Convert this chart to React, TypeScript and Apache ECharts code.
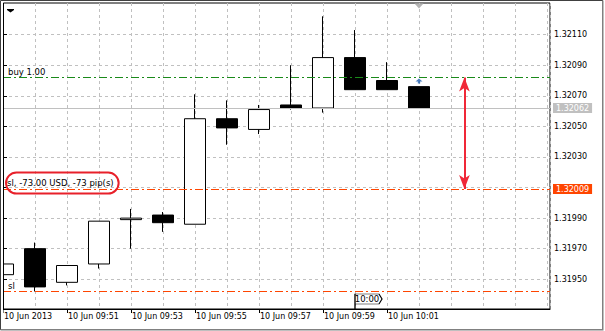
import React, { useEffect, useRef } from "react";
import * as echarts from "echarts";

// ---- data ----
const times = ["09:49", "09:50", "09:51", "09:52", "09:53", "09:54", "09:55", "09:56", "09:57", "09:58", "09:59", "10:00", "10:01", "10:02"];
const opens = [1.31953, 1.3197, 1.31948, 1.3196, 1.31989, 1.31992, 1.31986, 1.32055, 1.32048, 1.32064, 1.32062, 1.32095, 1.3208, 1.32076];
const closes = [1.3196, 1.31945, 1.31959, 1.31988, 1.3199, 1.31987, 1.32055, 1.32049, 1.32061, 1.32062, 1.32095, 1.32074, 1.32074, 1.32062];
const lows = [1.31953, 1.31942, 1.31946, 1.31957, 1.3197, 1.31981, 1.31986, 1.32038, 1.32045, 1.32061, 1.32059, 1.32074, 1.32074, 1.32062];
const highs = [1.3196, 1.31974, 1.31959, 1.31988, 1.31996, 1.31994, 1.32071, 1.32067, 1.32064, 1.3209, 1.32122, 1.32113, 1.32092, 1.32076];

const xLabels = ["10 Jun 2013", "", "10 Jun 09:51", "", "10 Jun 09:53", "", "10 Jun 09:55", "", "10 Jun 09:57", "", "10 Jun 09:59", "", "10 Jun 10:01"];
const xLabelValues = [0, 2, 4, 6, 8, 10, 12];
const yTickValues = [1.3195, 1.3197, 1.3199, 1.3201, 1.3203, 1.3205, 1.3207, 1.3209, 1.3211];
const yLabelValues = [1.3195, 1.3197, 1.3199, 1.3203, 1.3205, 1.3207, 1.3209, 1.3211];

const yMin = 1.3193055;
const yMax = 1.321307;
const xMax = 17.094;

const buyPrice = 1.32082;
const slPrice = 1.32009;
const sl2Price = 1.31942;
const bidPrice = 1.32062;
const buyLabel = "buy 1.00";
const slLabel = "sl, -73.00 USD, -73 pip(s)";
const sl2Label = "sl";
const periodLabel = "10:00";
const periodIndex = 11;
const arrowIndex = 14.42;
const dealIndex = 13;
const shiftIndex = 13;

const FONT = "DejaVu Sans";

export default function App() {
  const ref = useRef<HTMLDivElement>(null);

  useEffect(() => {
    document.body.style.margin = "0";
    const chart = echarts.init(ref.current!, null, { renderer: "svg" });
    const candleData = times.map((_, i) => [i, opens[i], closes[i], lows[i], highs[i]]);

    const priceBox = (bg: string) => ({
      show: true,
      position: "end",
      distance: 3,
      formatter: (p: any) => Number(p.value).toFixed(5),
      backgroundColor: bg,
      color: "#fff",
      padding: [1, 3, 0, 3],
      lineHeight: 9,
      fontSize: 8,
      fontFamily: FONT,
    });

    const lineLabel = (text: string) => ({
      show: true,
      position: "insideStartTop",
      distance: [5, 1],
      formatter: text,
      color: "#000",
      fontSize: 8.5,
      fontFamily: FONT,
    });

    const hLine = (price: number, color: string, dash: any, label: any) => ({
      yAxis: price,
      lineStyle: { color, type: dash, width: 1, opacity: 1 },
      itemStyle: { color },
      label,
    });

    chart.setOption({
      animation: false,
      backgroundColor: "#fff",
      grid: { left: 3, top: 3, right: 55, bottom: 22, show: true, borderColor: "#000", borderWidth: 1, backgroundColor: "transparent" },
      xAxis: [
        {
          type: "value",
          min: 0,
          max: xMax,
          interval: 1,
          position: "bottom",
          axisLine: { show: true, lineStyle: { color: "#000", width: 1 } },
          axisTick: { show: false },
          axisLabel: { show: false },
          splitLine: { show: true, lineStyle: { color: "#c0c0c0", type: [3, 3], width: 1 } },
        },
        {
          type: "value",
          min: 0,
          max: xMax,
          position: "bottom",
          axisLine: { show: false },
          splitLine: { show: false },
          axisTick: { show: true, length: 4, customValues: xLabelValues, lineStyle: { color: "#000" } },
          axisLabel: {
            show: true,
            customValues: xLabelValues,
            formatter: (v: number) => xLabels[Math.round(v)] ?? "",
            align: "left",
            margin: 3,
            padding: [0, 0, 0, 1],
            fontSize: 8,
            fontFamily: FONT,
            color: "#000",
          },
        },
      ],
      yAxis: {
        type: "value",
        position: "right",
        min: yMin,
        max: yMax,
        scale: true,
        axisLine: { show: true, lineStyle: { color: "#000", width: 1 } },
        axisTick: { show: true, length: 4, customValues: yTickValues, lineStyle: { color: "#000" } },
        axisLabel: {
          show: true,
          customValues: yLabelValues,
          formatter: (v: number) => v.toFixed(5),
          margin: 4,
          fontSize: 8,
          fontFamily: FONT,
          color: "#000",
        },
        splitLine: { show: true, lineStyle: { color: "#c0c0c0", type: [3, 3], width: 1 } },
      },
      series: [
        {
          type: "line",
          data: [],
          z: 1,
          silent: true,
          markLine: {
            silent: true,
            precision: 5,
            symbol: ["none", "none"],
            animation: false,
            emphasis: { disabled: true },
            data: [
              hLine(bidPrice, "#c0c0c0", "solid", priceBox("#c0c0c0")),
              hLine(buyPrice, "#1a8a1a", [8, 3, 2, 3], lineLabel(buyLabel)),
              hLine(slPrice, "#ff4500", [8, 3, 2, 3], priceBox("#ff4500")),
              hLine(sl2Price, "#ff4500", [8, 3, 2, 3], lineLabel(sl2Label)),
            ],
          },
        },
        {
          type: "line",
          data: [],
          z: 3,
          silent: true,
          markPoint: {
            silent: true,
            animation: false,
            data: [
              {
                coord: [0, slPrice],
                symbol: "circle",
                symbolSize: 0,
                itemStyle: { color: "transparent" },
                label: {
                  show: true,
                  position: "right",
                  distance: 3,
                  offset: [0, -6],
                  formatter: slLabel,
                  color: "#000",
                  fontSize: 8.5,
                  fontFamily: FONT,
                  lineHeight: 11,
                  borderColor: "#e8202a",
                  borderWidth: 2,
                  borderRadius: 11,
                  padding: [5, 5, 5, 1],
                },
              },
              {
                coord: [periodIndex, yMin],
                symbol: "path://M0,0 L24,0 L27,5 L24,10 L0,10 Z M0,10 L0,15",
                symbolSize: [27, 15],
                symbolOffset: [13.5, -7.5],
                itemStyle: { color: "#fff", borderColor: "#000", borderWidth: 1 },
                label: {
                  show: true,
                  position: "inside",
                  offset: [-1.5, -2.5],
                  formatter: periodLabel,
                  color: "#000",
                  fontSize: 8.5,
                  fontFamily: FONT,
                },
              },
              {
                coord: [shiftIndex, yMax],
                symbol: "triangle",
                symbolRotate: 180,
                symbolSize: [9, 5],
                symbolOffset: [0, 3],
                itemStyle: { color: "#b4b4b4" },
                label: { show: false },
              },
            ],
          },
        },
        {
          type: "candlestick",
          data: candleData,
          encode: { x: 0, y: [1, 2, 3, 4] },
          barWidth: 22,
          clip: true,
          z: 2,
          silent: true,
          itemStyle: { color: "#fff", color0: "#000", borderColor: "#000", borderColor0: "#000", borderWidth: 1 },
        },
        {
          type: "scatter",
          data: [[dealIndex, buyPrice]],
          symbol: "path://M3,0 L6,3 L4,3 L4,5 L2,5 L2,3 L0,3 Z",
          symbolSize: [7, 5],
          symbolOffset: [0, 3.5],
          itemStyle: { color: "#1f5fb0" },
          z: 6,
          silent: true,
        },
        {
          type: "scatter",
          data: [],
          z: 10,
          silent: true,
          markLine: {
            silent: true,
            precision: 5,
            animation: false,
            symbol: ["arrow", "arrow"],
            symbolSize: [8, 14],
            lineStyle: { color: "#f02838", width: 2, type: "solid" },
            label: { show: false },
            data: [[{ coord: [arrowIndex, buyPrice] }, { coord: [arrowIndex, slPrice] }]],
          },
        },
      ],
      graphic: [
        { type: "rect", z: 100, silent: true, shape: { x: 1, y: 1, width: 2.5, height: 328 }, style: { fill: "#fff" } },
        { type: "line", z: 101, silent: true, shape: { x1: 3.5, y1: 3, x2: 3.5, y2: 310 }, style: { stroke: "#000", lineWidth: 1 } },
        { type: "polyline", z: 101, silent: true, shape: { points: [[0.5, 330], [0.5, 0.5], [603, 0.5]] }, style: { stroke: "#404040", fill: null, lineWidth: 1 } },
        { type: "polyline", z: 101, silent: true, shape: { points: [[602.75, 0.5], [602.75, 329.75], [0.5, 329.75]] }, style: { stroke: "#808080", fill: null, lineWidth: 1.5 } },
        { type: "polygon", z: 101, silent: true, shape: { points: [[7, 9], [14, 9], [14, 10], [10.5, 12.5], [7, 10]] }, style: { fill: "#000" } },
      ],
    });
    return () => chart.dispose();
  }, []);

  return <div ref={ref} style={{ width: 605, height: 331, background: "#fff" }} />;
}
